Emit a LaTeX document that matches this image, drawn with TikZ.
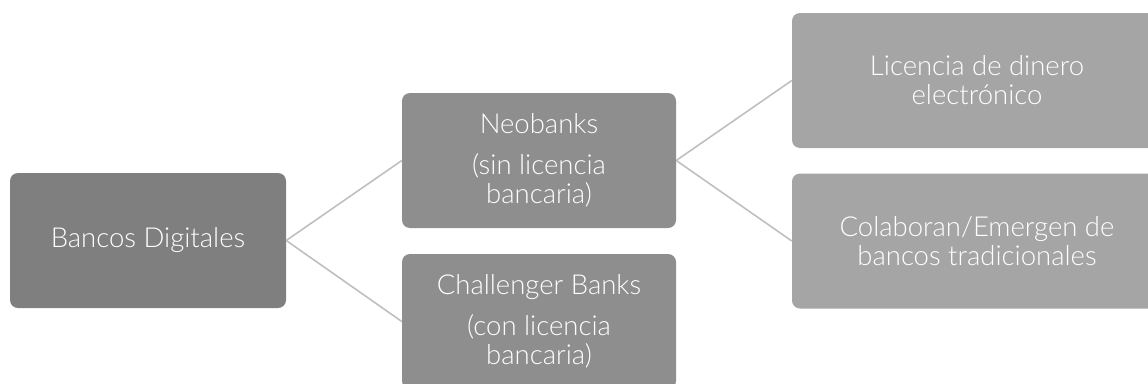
\documentclass[tikz,border=0pt]{standalone}
\usepackage{fontspec}
\setmainfont{Lato}[UprightFont={* Light}]
\definecolor{rootgray}{HTML}{7F7F7F}
\definecolor{midgray}{HTML}{8E8E8E}
\definecolor{leafgray}{HTML}{A5A5A5}
\definecolor{linkgray}{HTML}{BFBFBF}
\tikzset{
  box/.style={rectangle, rounded corners=8pt, text=white, align=center,
    minimum height=135pt, inner sep=0pt, font=\fontsize{27.5pt}{29pt}\selectfont},
  rootbox/.style={box, fill=rootgray, minimum width=276pt},
  midbox/.style={box, fill=midgray, minimum width=274pt},
  leafbox/.style={box, fill=leafgray, minimum width=370pt},
  link/.style={draw=linkgray, line width=1.6pt}
}
\begin{document}
\begin{tikzpicture}
\useasboundingbox (0pt, 0pt) rectangle (1148pt, -383pt);
\begin{scope}
\clip (0pt, 0pt) rectangle (1148pt, -383pt);
% first level
\node[rootbox] (bancos) at (148pt, -240.5pt) {Bancos Digitales};
% second level
\node[midbox] (neo) at (539pt, -160.5pt) {Neobanks\\[12pt](sin licencia\\bancaria)};
\node[midbox] (chall) at (539pt, -321.5pt) {Challenger Banks\\[12pt](con licencia\\bancaria)};
% third level
\node[leafbox] (lic) at (977pt, -80.5pt) {Licencia de dinero\\electrónico};
\node[leafbox] (colab) at (977pt, -241pt) {Colaboran/Emergen de\\bancos tradicionales};
\draw[link] (bancos.east) -- (neo.west);
\draw[link] (bancos.east) -- (chall.west);
\draw[link] (neo.east) -- (lic.west);
\draw[link] (neo.east) -- (colab.west);
\end{scope}
\end{tikzpicture}
\end{document}
